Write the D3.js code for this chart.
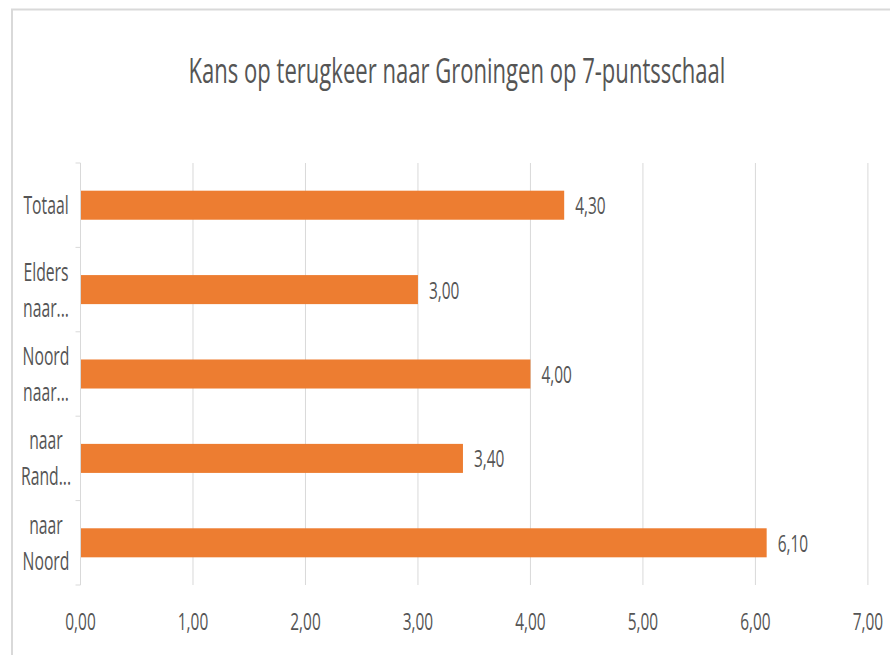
<!DOCTYPE html>
<html>
<head>
<meta charset="utf-8">
<script src="https://cdn.jsdelivr.net/npm/d3@7"></script>
<style>
  html, body { margin: 0; padding: 0; background: #fff; }
  text { font-family: "Open Sans", sans-serif; fill: #555555; }
</style>
</head>
<body>
<svg id="chart" width="890" height="655"></svg>
<script>
const title = "Kans op terugkeer naar Groningen op 7-puntsschaal";
const categories = ["Totaal", "Elders naar...", "Noord naar...", "naar Rand...", "naar Noord"];
const categoryLines = [["Totaal"], ["Elders", "naar..."], ["Noord", "naar..."], ["naar", "Rand..."], ["naar", "Noord"]];
const values = [4.30, 3.00, 4.00, 3.40, 6.10];
const xTicks = [0, 1, 2, 3, 4, 5, 6, 7];

const W = 890, H = 655;
const plot = { left: 80.5, right: 867.9, top: 163, bottom: 585 };
const squeeze = 0.63;
const svg = d3.select("#chart");

const nl = d3.formatLocale({ decimal: ",", thousands: ".", grouping: [3], currency: ["€", ""] });
const fmt = nl.format(".2f");

// draw a horizontally condensed text (narrow face look) at (px, py)
function label(parent, px, py, str, size, anchor) {
  return parent.append("text")
    .attr("transform", `translate(${px},${py}) scale(${squeeze},1)`)
    .attr("text-anchor", anchor || "start")
    .attr("font-size", size)
    .text(str);
}

// outer border
svg.append("path")
  .attr("d", `M12,${H} L12,9.5 L${W},9.5`)
  .attr("fill", "none").attr("stroke", "#d9d9d9").attr("stroke-width", 2);

const x = d3.scaleLinear().domain([0, 7]).range([plot.left, plot.right]);
const y = d3.scaleBand().domain(categories).range([plot.top, plot.bottom])
  .paddingInner(0.656).paddingOuter(0.328);

// gridlines
svg.append("g").selectAll("line").data(xTicks.slice(1)).join("line")
  .attr("x1", d => x(d)).attr("x2", d => x(d))
  .attr("y1", plot.top).attr("y2", plot.bottom)
  .attr("stroke", "#d9d9d9").attr("stroke-width", 1);

// y axis line + tick marks at band boundaries
svg.append("line")
  .attr("x1", x(0)).attr("x2", x(0)).attr("y1", plot.top).attr("y2", plot.bottom)
  .attr("stroke", "#d9d9d9").attr("stroke-width", 1);
const step = y.step();
const bounds = d3.range(categories.length + 1).map(i => plot.top + i * step);
svg.append("g").selectAll("line").data(bounds).join("line")
  .attr("x1", x(0) - 5).attr("x2", x(0))
  .attr("y1", d => d).attr("y2", d => d)
  .attr("stroke", "#d9d9d9").attr("stroke-width", 1);

// bars
svg.append("g").selectAll("rect").data(values).join("rect")
  .attr("x", x(0) + 0.5)
  .attr("y", (d, i) => y(categories[i]))
  .attr("width", d => x(d) - x(0) - 0.5)
  .attr("height", y.bandwidth())
  .attr("fill", "#ED7D31");

// value labels
const gv = svg.append("g");
values.forEach((d, i) => {
  label(gv, x(d) + 11, y(categories[i]) + y.bandwidth() / 2 + 9, fmt(d), 24.5);
});

// x tick labels
const gx = svg.append("g");
xTicks.forEach(d => label(gx, x(d), 630, fmt(d), 24.5, "middle"));

// category labels
const gy = svg.append("g");
const lineH = 36;
categoryLines.forEach((lines, i) => {
  const cy = y(categories[i]) + y.bandwidth() / 2;
  const n = lines.length;
  lines.forEach((ln, j) => {
    label(gy, 46, cy + 9 + (j - (n - 1) / 2) * lineH, ln, 25, "middle");
  });
});

// title
label(svg, 457, 83, title, 35, "middle");
</script>
</body>
</html>
